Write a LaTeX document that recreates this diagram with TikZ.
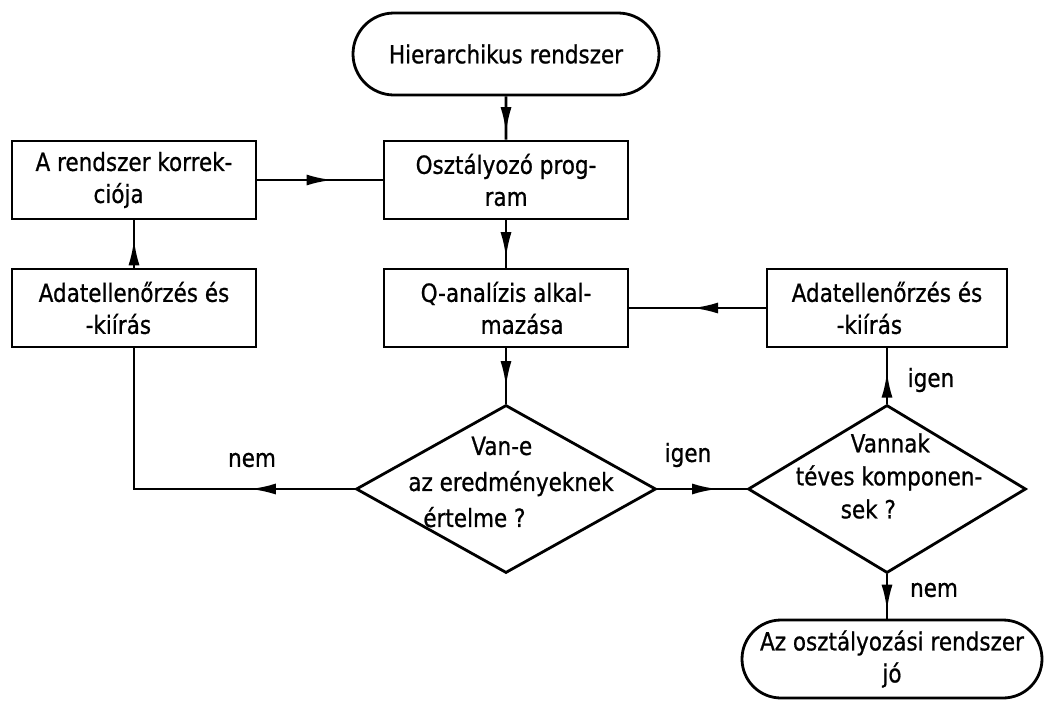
\documentclass[tikz,border=0pt]{standalone}
\usepackage{fontspec}
\setmainfont{DejaVu Sans}[FakeStretch=0.86, FakeBold=0.8]
\usetikzlibrary{shapes.geometric,shapes.misc,arrows.meta,decorations.markings}

\begin{document}
\begin{tikzpicture}[x=1pt, y=-1pt, line width=2.8pt,
    every node/.style={font=\fontsize{25}{32}\selectfont},
    box/.style={draw, rectangle, minimum width=244pt, minimum height=78pt, align=left, inner sep=0pt},
    terminal/.style={draw, rounded rectangle, minimum width=306pt, minimum height=82pt, align=center, inner sep=0pt},
    decision/.style={draw, diamond, minimum width=300pt, minimum height=168pt, inner sep=0pt},
    flow/.style={postaction={decorate}, decoration={markings, mark=at position #1 with {\arrow{Latex[length=26pt,width=11pt]}}}},
    flow/.default=0.5]
    \useasboundingbox (0,0) rectangle (1049,702);
    \node[terminal] (start) at (506,54) {Hierarchikus rendszer};
    \node[box] (prog) at (506,180) {Osztályozó prog-\\\hspace*{69pt}ram};
    \node[box] (korr) at (134,180) {A rendszer korrek-\\\hspace*{58pt}ciója};
    \node[box] (ellL) at (134,308) {Adatellenőrzés és\\\hspace*{47pt}-kiírás};
    \node[box] (qan) at (506,308) {Q-analízis alkal-\\\hspace*{60pt}mazása};
    \node[box, minimum width=240pt] (ellR) at (887,308) {Adatellenőrzés és\\\hspace*{45pt}-kiírás};
    \node[decision] (vane) at (506,489) {};
    \node[align=left, font=\fontsize{25}{36}\selectfont] (vanetxt) at (511,482) {\hspace*{63pt}Van-e\\az eredményeknek\\\hspace*{15pt}értelme ?};
    \node[decision, minimum width=278pt] (hibas) at (887,489) {};
    \node[align=left, font=\fontsize{25}{33}\selectfont] (hibastxt) at (889,476) {\hspace*{55pt}Vannak\\téves komponen-\\\hspace*{45pt}sek ?};
    \node[terminal, minimum width=300pt, minimum height=78pt] (jo) at (892,659) {Az osztályozási rendszer\\jó};

    \node (nemL) at (252,460) {nem};
    \node (igenM) at (688,455) {igen};
    \node (igenR) at (931,380) {igen};
    \node (nemR) at (934,590) {nem};

    \draw[flow=0.85] (start) -- (prog);
    \draw[flow=0.8] (prog) -- (qan);
    \draw[flow=0.7] (qan) -- (vane);
    \draw[flow=0.6] (korr) -- (prog);
    \draw[flow=0.6] (ellL) -- (korr);
    \draw[flow=0.54] (ellR) -- (qan);
    \draw[flow=0.29] (vane.west) -| (ellL.south);
    \draw[flow=0.68] (vane.east) -- (hibas.west);
    \draw[flow=0.58] (hibas.north) -- (ellR.south);
    \draw[flow=0.82] (hibas.south) -- (hibas.south |- jo.north);
\end{tikzpicture}
\end{document}
